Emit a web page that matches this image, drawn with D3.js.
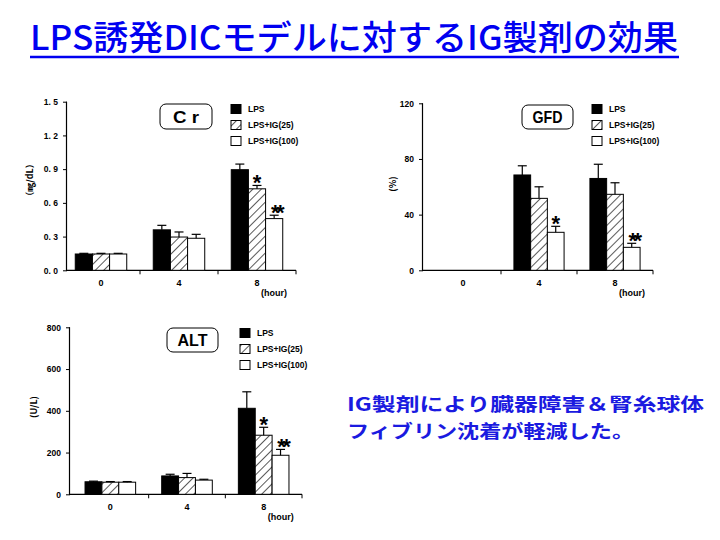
<!DOCTYPE html>
<html><head><meta charset="utf-8">
<script src="https://cdn.jsdelivr.net/npm/d3@7"></script>
<style>
body{margin:0;background:#fff;}
svg{display:block;}
</style></head>
<body>
<svg id="c" width="720" height="540"></svg>
<script>
// ---------- data ----------
const categories = ["0", "4", "8"];
const seriesNames = ["LPS", "LPS+IG(25)", "LPS+IG(100)"];

const crLPS = [0.145, 0.36, 0.895];
const crIG25 = [0.145, 0.296, 0.725];
const crIG100 = [0.145, 0.285, 0.46];
const crLPSErr = [0.006, 0.04, 0.05];
const crIG25Err = [0.006, 0.045, 0.03];
const crIG100Err = [0.006, 0.035, 0.03];
const crSig = [["", "", ""], ["", "", "*"], ["", "", "**"]];
const crTicks = [0, 0.3, 0.6, 0.9, 1.2, 1.5];
const crTickLabels = ["0. 0", "0. 3", "0. 6", "0. 9", "1. 2", "1. 5"];

const gfdLPS = [0, 68.5, 66];
const gfdIG25 = [0, 51.7, 54.6];
const gfdIG100 = [0, 27.3, 16.5];
const gfdLPSErr = [0, 6.6, 10.2];
const gfdIG25Err = [0, 8.3, 8.3];
const gfdIG100Err = [0, 4.3, 2.9];
const gfdSig = [["", "", ""], ["", "", ""], ["", "*", "**"]];
const gfdTicks = [0, 40, 80, 120];
const gfdTickLabels = ["0", "40", "80", "120"];

const altLPS = [60, 88, 412];
const altIG25 = [58, 80, 283];
const altIG100 = [58, 68, 187];
const altLPSErr = [3, 8, 79];
const altIG25Err = [3, 20, 38];
const altIG100Err = [3, 4, 28];
const altSig = [["", "", ""], ["", "", "*"], ["", "", "**"]];
const altTicks = [0, 200, 400, 600, 800];
const altTickLabels = ["0", "200", "400", "600", "800"];

const titleText = "LPS誘発DICモデルに対するIG製剤の効果";
const noteLines = ["IG製剤により臓器障害＆腎糸球体", "フィブリン沈着が軽減した。"];

// ---------- drawing ----------
const svg = d3.select("#c");
const defs = svg.append("defs");
const pat = defs.append("pattern").attr("id", "hatch")
  .attr("patternUnits", "userSpaceOnUse").attr("width", 6).attr("height", 6)
  .attr("patternTransform", "rotate(45)");
pat.append("rect").attr("width", 6).attr("height", 6).attr("fill", "#fff");
pat.append("line").attr("x1", 0).attr("y1", 0).attr("x2", 0).attr("y2", 6)
  .attr("stroke", "#000").attr("stroke-width", 1.3);

const fills = ["#000", "url(#hatch)", "#fff"];
const FONT = "'Liberation Sans', Arial, sans-serif";

function drawChart(cfg) {
  const g = svg.append("g");
  const y = d3.scaleLinear().domain([0, cfg.max]).range([cfg.bottom, cfg.top]);
  const x = d3.scaleBand().domain(categories).range([cfg.left, cfg.right])
    .paddingInner(0.34).paddingOuter(0.17);
  const xs = d3.scaleBand().domain(seriesNames).range([0, x.bandwidth()]);

  // y axis
  const yAxis = d3.axisLeft(y).tickValues(cfg.ticks)
    .tickFormat((d, i) => cfg.tickLabels[i]).tickSize(4).tickPadding(5);
  const ya = g.append("g").attr("transform", `translate(${cfg.axisX},0)`).call(yAxis);
  ya.select(".domain").attr("d", `M-0.5,${cfg.top}V${cfg.bottom}`).attr("stroke-width", 1.2);
  ya.selectAll("text").attr("font-family", FONT).attr("font-weight", "bold")
    .attr("font-size", 8.5).attr("fill", "#000");

  // x axis
  const xa = g.append("g").attr("transform", `translate(0,${cfg.bottom})`);
  xa.append("line").attr("x1", cfg.axisX - 1).attr("x2", cfg.right)
    .attr("stroke", "#000").attr("stroke-width", 1.2);
  const step = x.step();
  const bounds = categories.map(c => x(c) + x.bandwidth() + step * x.paddingInner() / 2);
  xa.selectAll(".tk").data(bounds).join("line")
    .attr("x1", d => d).attr("x2", d => d).attr("y1", 0).attr("y2", 4)
    .attr("stroke", "#000");
  xa.selectAll(".lb").data(categories).join("text")
    .attr("x", d => x(d) + x.bandwidth() / 2).attr("y", 16)
    .attr("text-anchor", "middle").attr("font-family", FONT).attr("font-weight", "bold")
    .attr("font-size", 9).text(d => d);
  xa.append("text").attr("x", x("8") + x.bandwidth() / 2 + 17).attr("y", 26)
    .attr("text-anchor", "middle").attr("font-family", FONT).attr("font-weight", "bold")
    .attr("font-size", 9).text("(hour)");

  // bars
  cfg.values.forEach((vals, si) => {
    const gs = g.append("g");
    gs.selectAll("rect").data(vals).join("rect")
      .attr("x", (d, i) => x(categories[i]) + xs(seriesNames[si]))
      .attr("y", d => y(d))
      .attr("width", xs.bandwidth())
      .attr("height", d => y(0) - y(d))
      .attr("fill", fills[si]).attr("stroke", d => d > 0 ? "#000" : "none").attr("stroke-width", 1);
    // error bars
    const cx = (i) => x(categories[i]) + xs(seriesNames[si]) + xs.bandwidth() / 2;
    vals.forEach((d, i) => {
      const e = cfg.errs[si][i];
      if (!(e > 0) || !(d > 0)) return;
      gs.append("line").attr("x1", cx(i)).attr("x2", cx(i)).attr("y1", y(d)).attr("y2", y(d + e))
        .attr("stroke", "#000").attr("stroke-width", 1.2);
      gs.append("line").attr("x1", cx(i) - 4.5).attr("x2", cx(i) + 4.5).attr("y1", y(d + e)).attr("y2", y(d + e))
        .attr("stroke", "#000").attr("stroke-width", 1.2);
      const s = cfg.sig[si][i];
      if (s) {
        const ty = y(d + e) + 5;
        const double = s.length > 1;
        gs.append("text").attr("x", cx(i) + (double ? 1.8 : 0)).attr("y", ty)
          .attr("text-anchor", "middle").attr("font-family", FONT).attr("font-weight", "bold")
          .attr("font-size", 22).attr("letter-spacing", double ? -3.6 : 0).text(s);
      }
    });
  });

  // y label
  g.append("text").attr("transform", `translate(${cfg.ylabX},${cfg.ylabY}) rotate(-90)`)
    .attr("text-anchor", "middle").attr("font-family", "'Noto Sans CJK JP', sans-serif")
    .attr("font-weight", "bold").attr("font-size", 9).text(cfg.ylabel);

  // title box
  const b = cfg.box;
  g.append("rect").attr("x", b[0]).attr("y", b[1]).attr("width", b[2]).attr("height", b[3])
    .attr("rx", 6).attr("fill", "#fff").attr("stroke", "#000").attr("stroke-width", 1);
  g.append("text").attr("x", b[0] + b[2] / 2).attr("y", b[1] + b[3] / 2 + 6)
    .attr("text-anchor", "middle").attr("font-family", FONT).attr("font-weight", "bold")
    .attr("font-size", 17).attr("textLength", cfg.boxTextLen).attr("lengthAdjust", "spacingAndGlyphs")
    .text(cfg.name);

  // legend
  const L = cfg.legend;
  seriesNames.forEach((n, i) => {
    g.append("rect").attr("x", L[0]).attr("y", L[1] + i * 16 - 4.5).attr("width", 10).attr("height", 9)
      .attr("fill", fills[i]).attr("stroke", "#000").attr("stroke-width", 1);
    g.append("text").attr("x", L[0] + 17).attr("y", L[1] + i * 16 + 3)
      .attr("font-family", FONT).attr("font-weight", "bold").attr("font-size", 8.5).text(n);
  });
}

drawChart({
  name: "C r", boxTextLen: 26, max: 1.5, ticks: crTicks, tickLabels: crTickLabels,
  values: [crLPS, crIG25, crIG100], errs: [crLPSErr, crIG25Err, crIG100Err], sig: crSig,
  left: 62, right: 296, axisX: 67, top: 101.7, bottom: 270.3,
  ylabel: "（㎎/dL）", ylabX: 33, ylabY: 180, box: [160, 104, 52, 25], legend: [231, 109]
});
drawChart({
  name: "GFD", boxTextLen: 30, max: 120, ticks: gfdTicks, tickLabels: gfdTickLabels,
  values: [gfdLPS, gfdIG25, gfdIG100], errs: [gfdLPSErr, gfdIG25Err, gfdIG100Err], sig: gfdSig,
  left: 425, right: 653, axisX: 423, top: 103.3, bottom: 270.3,
  ylabel: "(%)", ylabX: 396, ylabY: 184, box: [522, 105, 51, 24], legend: [592, 109]
});
drawChart({
  name: "ALT", boxTextLen: 30, max: 800, ticks: altTicks, tickLabels: altTickLabels,
  values: [altLPS, altIG25, altIG100], errs: [altLPSErr, altIG25Err, altIG100Err], sig: altSig,
  left: 72, right: 302, axisX: 70, top: 327.3, bottom: 494.3,
  ylabel: "(U/L)", ylabX: 37, ylabY: 407, box: [167, 328, 51, 24], legend: [240, 333]
});

// title
svg.append("text").attr("x", 30).attr("y", 50)
  .attr("font-family", "'Noto Sans CJK JP', sans-serif").attr("font-weight", 500)
  .attr("font-size", 34).attr("fill", "#0000f0")
  .attr("textLength", 648).attr("lengthAdjust", "spacingAndGlyphs").text(titleText);
svg.append("line").attr("x1", 30).attr("x2", 679).attr("y1", 57).attr("y2", 57)
  .attr("stroke", "#0000f0").attr("stroke-width", 2.5);

// note (two lines)
const noteLens = [357, 287];
noteLines.forEach((t, i) => {
  svg.append("text").attr("x", 347).attr("y", 411 + i * 27)
    .attr("font-family", "'Noto Sans CJK JP', sans-serif").attr("font-weight", "bold")
    .attr("font-size", 18.5).attr("fill", "#1a1ae0")
    .attr("textLength", noteLens[i]).attr("lengthAdjust", "spacingAndGlyphs").text(t);
});
</script>
</body></html>
